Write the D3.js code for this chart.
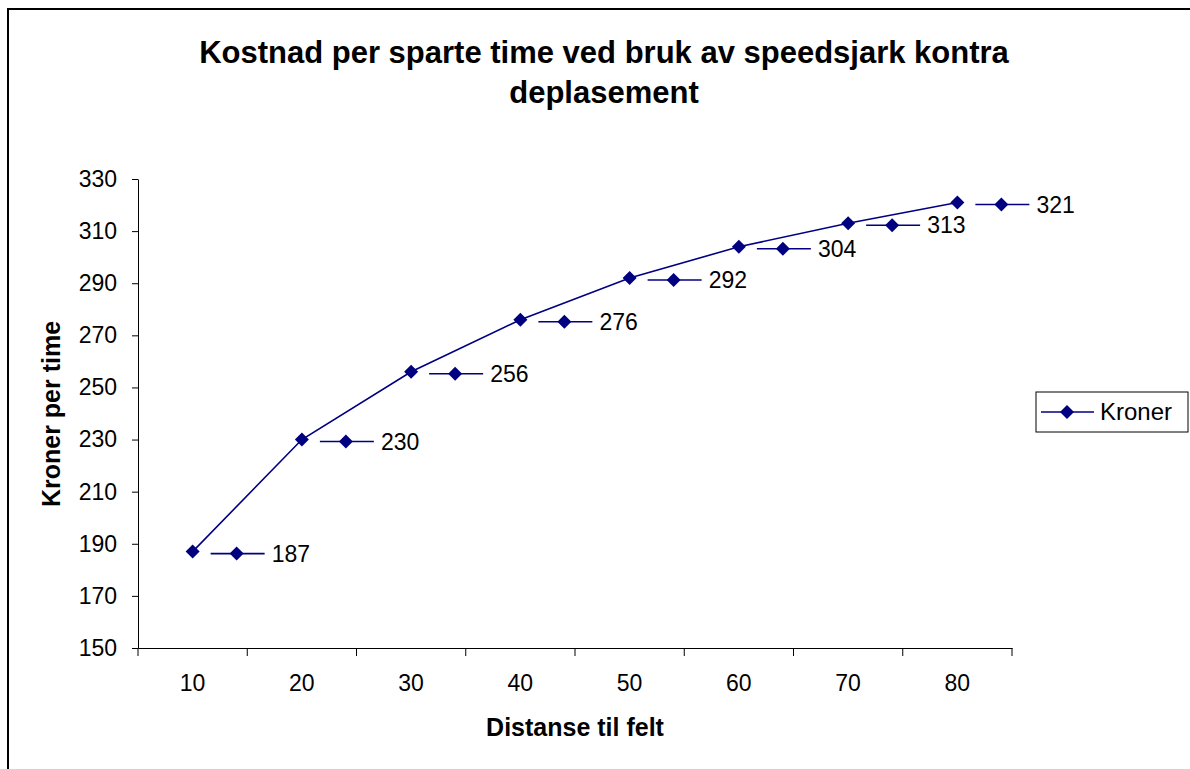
<!DOCTYPE html>
<html>
<head>
<meta charset="utf-8">
<script src="https://cdn.jsdelivr.net/npm/d3@7"></script>
<style>
  body { margin: 0; background: #fff; }
  text { font-family: "Liberation Sans", Arial, sans-serif; }
</style>
</head>
<body>
<svg id="chart" width="1190" height="769"></svg>
<script>
// data
const categories = [10, 20, 30, 40, 50, 60, 70, 80];
const kroner = [187, 230, 256, 276, 292, 304, 313, 321];
const yTicks = [150, 170, 190, 210, 230, 250, 270, 290, 310, 330];
const titleLines = ["Kostnad per sparte time ved bruk av speedsjark kontra", "deplasement"];
const seriesName = "Kroner";

const navy = "#000080";
const plot = {left: 138, right: 1012, top: 179, bottom: 648};
const fontFam = "Liberation Sans, Arial, sans-serif";

const svg = d3.select("#chart");

// chart frame
svg.append("rect")
  .attr("x", 8).attr("y", 9)
  .attr("width", 1300).attr("height", 900)
  .attr("fill", "#fff")
  .attr("stroke", "#000").attr("stroke-width", 2);

// scales
const xBand = d3.scaleBand()
  .domain(categories)
  .range([plot.left, plot.right]);

const yScale = d3.scaleLinear()
  .domain([150, 330])
  .range([plot.bottom, plot.top]);

const xc = d => xBand(d) + xBand.bandwidth() / 2;

// title
svg.append("g").selectAll("text")
  .data(titleLines)
  .enter().append("text")
  .attr("x", 604)
  .attr("y", (d, i) => 63 + i * 40)
  .attr("text-anchor", "middle")
  .attr("font-size", 31)
  .attr("font-weight", "bold")
  .text(d => d);

// y axis
const yAxis = svg.append("g")
  .attr("transform", "translate(" + plot.left + ",0)")
  .call(d3.axisLeft(yScale).tickValues(yTicks).tickSize(6).tickSizeOuter(0).tickPadding(15));
yAxis.select(".domain").attr("stroke", "#000");
yAxis.selectAll(".tick line").attr("stroke", "#000");
yAxis.selectAll("text").attr("font-size", 23).attr("font-family", fontFam).attr("fill", "#000");

// x axis (category axis, ticks between categories)
const xAxis = svg.append("g")
  .attr("transform", "translate(0," + plot.bottom + ")")
  .call(d3.axisBottom(xBand).tickSize(0).tickPadding(27));
xAxis.select(".domain").attr("stroke", "#000");
xAxis.selectAll("text").attr("font-size", 23).attr("font-family", fontFam).attr("fill", "#000");

// tick marks on category boundaries
const bounds = categories.map(c => xBand(c)).concat([plot.right]);
xAxis.append("g").selectAll("line")
  .data(bounds)
  .enter().append("line")
  .attr("x1", d => d).attr("x2", d => d)
  .attr("y1", 0).attr("y2", 8)
  .attr("stroke", "#000");

// axis titles
svg.append("text")
  .attr("x", 575).attr("y", 736)
  .attr("text-anchor", "middle")
  .attr("font-size", 25).attr("font-weight", "bold")
  .text("Distanse til felt");

svg.append("text")
  .attr("transform", "translate(60,414) rotate(-90)")
  .attr("text-anchor", "middle")
  .attr("font-size", 25).attr("font-weight", "bold")
  .text("Kroner per time");

// diamond marker
function marker(g, x, y) {
  g.append("path")
    .attr("d", "M0,-7L7,0L0,7L-7,0Z")
    .attr("transform", "translate(" + x + "," + y + ")")
    .attr("fill", navy);
}

const pts = categories.map((c, i) => ({cat: c, val: kroner[i]}));

// line
const line = d3.line()
  .x(d => xc(d.cat))
  .y(d => yScale(d.val));

svg.append("path")
  .datum(pts)
  .attr("d", line)
  .attr("fill", "none")
  .attr("stroke", navy)
  .attr("stroke-width", 1.6);

const markers = svg.append("g");
pts.forEach(d => marker(markers, xc(d.cat), yScale(d.val)));

// data labels with legend key
const labels = svg.append("g");
pts.forEach(d => {
  const x = xc(d.cat), y = yScale(d.val) + 2;
  labels.append("line")
    .attr("x1", x + 18).attr("x2", x + 72)
    .attr("y1", y).attr("y2", y)
    .attr("stroke", navy).attr("stroke-width", 1.6);
  marker(labels, x + 44, y);
  labels.append("text")
    .attr("x", x + 79).attr("y", y)
    .attr("dy", "0.35em")
    .attr("font-size", 23)
    .text(d.val);
});

// legend
const legend = svg.append("g").attr("transform", "translate(1036,392)");
legend.append("rect")
  .attr("width", 152).attr("height", 40)
  .attr("fill", "#fff").attr("stroke", "#000");
legend.append("line")
  .attr("x1", 5).attr("x2", 58).attr("y1", 20).attr("y2", 20)
  .attr("stroke", navy).attr("stroke-width", 1.6);
marker(legend, 31, 20);
legend.append("text")
  .attr("x", 64).attr("y", 20).attr("dy", "0.35em")
  .attr("font-size", 24)
  .text(seriesName);
</script>
</body>
</html>
